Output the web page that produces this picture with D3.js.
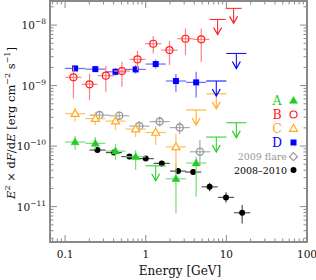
<!DOCTYPE html>
<html><head><meta charset="utf-8">
<script src="https://cdn.jsdelivr.net/npm/d3@7"></script>
<style>body{margin:0;background:#fff}svg{display:block}text{font-family:"DejaVu Serif",serif}</style>
</head><body>
<svg id="c" width="316" height="280"></svg>
<script>
// ---- data ----
const xTicks = [0.1, 1, 10, 100];
const xTickLabels = ["0.1", "1", "10", "100"];
const yTicks = [1e-8, 1e-9, 1e-10, 1e-11];
const yTickExps = ["\u22128", "\u22129", "\u221210", "\u221211"];

// A (green)
const aE  = [0.133, 0.237, 0.422, 0.75, 2.37, 4.22];
const aF  = [1.17e-10, 1.11e-10, 8.27e-11, 6.65e-11, 2.88e-11, 5.24e-11];
const aLo = [8.6e-11, 8.9e-11, 5.87e-11, 4.01e-11, 7.7e-12, 1.45e-11];
const aHi = [1.47e-10, 1.41e-10, 1.08e-10, 8.6e-11, 5.24e-11, 6.65e-11];
const aUlE = [1.33, 7.5, 13.3];
const aUlF = [4.72e-11, 1.41e-10, 2.43e-10];
// B (red)
const bE  = [0.127, 0.201, 0.32, 0.507, 0.79, 1.24, 1.97, 3.11, 4.88];
const bF  = [1.37e-9, 1.05e-9, 1.46e-9, 1.74e-9, 2.71e-9, 4.91e-9, 3.86e-9, 5.94e-9, 5.81e-9];
const bLo = [6.14e-10, 5.76e-10, 7.9e-10, 9.55e-10, 1.8e-9, 3.4e-9, 2.18e-9, 3.19e-9, 2.47e-9];
const bHi = [2.05e-9, 1.58e-9, 2.11e-9, 2.47e-9, 3.76e-9, 6.58e-9, 5.5e-9, 8.82e-9, 8.82e-9];
const bUlE = [7.79, 12.3];
const bUlF = [1.24e-8, 1.89e-8];
// C (orange)
const cE  = [0.133, 0.237, 0.422, 0.75, 1.33, 2.37];
const cF  = [3.44e-10, 2.85e-10, 2.59e-10, 1.91e-10, 1.68e-10, 9.7e-11];
const cLo = [2.54e-10, 2.23e-10, 1.84e-10, 1.41e-10, 1.04e-10, 4.28e-11];
const cHi = [4.25e-10, 3.69e-10, 3.25e-10, 2.37e-10, 2.14e-10, 1.62e-10];
const cUlE = [4.22, 7.5];
const cUlF = [3.95e-10, 7.29e-10];
// D (blue)
const dE  = [0.133, 0.237, 0.422, 0.75, 1.33, 2.37, 4.22];
const dF  = [1.92e-9, 1.87e-9, 1.69e-9, 1.85e-9, 2.27e-9, 1.19e-9, 1.13e-9];
const dLo = [1.74e-9, 1.67e-9, 1.46e-9, 1.59e-9, 1.92e-9, 7.9e-10, 6.38e-10];
const dHi = [2.14e-9, 2.1e-9, 1.95e-9, 2.16e-9, 2.71e-9, 1.55e-9, 1.69e-9];
const dUlE = [7.5, 13.3];
const dUlF = [1.19e-9, 3.4e-9];
// 2009 flare (gray)
const gE  = [0.267, 0.469, 0.832, 1.49, 2.64, 4.7];
const gF  = [3.25e-10, 3.17e-10, 2.14e-10, 2.54e-10, 2.02e-10, 8.05e-11];
const gLo = [2.79e-10, 2.69e-10, 1.8e-10, 2.1e-10, 1.58e-10, 4.67e-11];
const gHi = [3.79e-10, 3.72e-10, 2.54e-10, 3.08e-10, 2.54e-10, 1.26e-10];
// 2008-2010 (black)
const kE  = [0.252, 0.403, 0.628, 1.0, 1.58, 2.52, 3.88, 6.2, 9.9, 15.7];
const kF  = [8.6e-11, 7.81e-11, 6.7e-11, 6.21e-11, 5.18e-11, 3.86e-11, 3.72e-11, 2.12e-11, 1.42e-11, 7.91e-12];
const kLo = [7.81e-11, 7.1e-11, 6.09e-11, 5.65e-11, 4.67e-11, 3.44e-11, 3.32e-11, 1.8e-11, 1.17e-11, 5.27e-12];
const kHi = [9.45e-11, 8.6e-11, 7.38e-11, 6.84e-11, 5.75e-11, 4.33e-11, 4.17e-11, 2.49e-11, 1.72e-11, 1.06e-11];

const legendLabels = ["A", "B", "C", "D", "2009 flare", "2008\u20132010"];

// ---- drawing ----
const svg = d3.select("#c");
const L = 50, R = 307, T = 1, B = 242;
const x = d3.scaleLog().domain([0.065, 100]).range([L, R]);
const y = d3.scaleLog().domain([2.6e-12, 2.5e-8]).range([B, T]);

const axisCol = "#8a8a8a";
const xMinor = [];
[0.01, 0.1, 1, 10].forEach(d => { for (let k = 1; k < 10; k++) { const v = d * k; if (v >= 0.065 && v <= 100) xMinor.push(v); } });
const yMinor = [];
[1e-12, 1e-11, 1e-10, 1e-9, 1e-8].forEach(d => { for (let k = 1; k < 10; k++) { const v = d * k; if (v >= 2.6e-12 && v <= 2.5e-8) yMinor.push(v); } });

const g = svg.append("g");
function isMajor(v) { return Math.abs(Math.log10(v) - Math.round(Math.log10(v))) < 1e-6; }
xMinor.forEach(v => {
  const len = isMajor(v) ? 7 : 3.5;
  g.append("line").attr("x1", x(v)).attr("x2", x(v)).attr("y1", B).attr("y2", B - len).attr("stroke", axisCol).attr("stroke-width", 1);
  g.append("line").attr("x1", x(v)).attr("x2", x(v)).attr("y1", T).attr("y2", T + len).attr("stroke", axisCol).attr("stroke-width", 1);
});
yMinor.forEach(v => {
  const len = isMajor(v) ? 7 : 3.5;
  g.append("line").attr("y1", y(v)).attr("y2", y(v)).attr("x1", L).attr("x2", L + len).attr("stroke", axisCol).attr("stroke-width", 1);
  g.append("line").attr("y1", y(v)).attr("y2", y(v)).attr("x1", R).attr("x2", R - len).attr("stroke", axisCol).attr("stroke-width", 1);
});
g.append("rect").attr("x", L).attr("y", T).attr("width", R - L).attr("height", B - T)
  .attr("fill", "none").attr("stroke", axisCol).attr("stroke-width", 2);

xTicks.forEach((v, i) => {
  svg.append("text").attr("x", x(v)).attr("y", 258).attr("text-anchor", "middle")
    .attr("font-size", 10.5).attr("fill", "#111").text(xTickLabels[i]);
});
yTicks.forEach((v, i) => {
  const t = svg.append("text").attr("x", 46).attr("y", y(v) + 4).attr("text-anchor", "end").attr("font-size", 10.5).attr("fill", "#111");
  t.append("tspan").text("10");
  t.append("tspan").attr("dy", -5).attr("font-size", 7.5).text(yTickExps[i]);
});

svg.append("text").attr("x", 180).attr("y", 275).attr("text-anchor", "middle").attr("font-size", 12).attr("fill", "#111").text("Energy [GeV]");
const yl = svg.append("text").attr("transform", "translate(15,123) rotate(-90)").attr("text-anchor", "middle").attr("font-size", 11.5).attr("fill", "#111");
yl.append("tspan").attr("font-style", "italic").text("E");
yl.append("tspan").attr("dy", -5).attr("font-size", 8).text("2");
yl.append("tspan").attr("dy", 5).text(" \u00d7 d");
yl.append("tspan").attr("font-style", "italic").text("F");
yl.append("tspan").text("/d");
yl.append("tspan").attr("font-style", "italic").text("E");
yl.append("tspan").text(" [erg cm");
yl.append("tspan").attr("dy", -5).attr("font-size", 8).text("\u22122");
yl.append("tspan").attr("dy", 5).text(" s");
yl.append("tspan").attr("dy", -5).attr("font-size", 8).text("\u22121");
yl.append("tspan").attr("dy", 5).text("]");

const plot = svg.append("g");

function marker(sel, type, cx, cy, col) {
  if (type === "tri" || type === "otri") {
    const s = 4;
    sel.append("path").attr("d", `M${cx},${cy - s}L${cx + s},${cy + s * 0.7}L${cx - s},${cy + s * 0.7}Z`)
      .attr("fill", type === "tri" ? col : "#fff").attr("stroke", col).attr("stroke-width", type === "tri" ? 0.5 : 1.2);
  } else if (type === "ocirc") {
    sel.append("circle").attr("cx", cx).attr("cy", cy).attr("r", 3.5).attr("fill", "none").attr("stroke", col).attr("stroke-width", 1.2);
  } else if (type === "gcirc") {
    sel.append("circle").attr("cx", cx).attr("cy", cy).attr("r", 3.6).attr("fill", "none").attr("stroke", col).attr("stroke-width", 1.3);
  } else if (type === "sq") {
    sel.append("rect").attr("x", cx - 3).attr("y", cy - 3).attr("width", 6).attr("height", 6).attr("fill", col);
  } else if (type === "diam") {
    sel.append("path").attr("d", `M${cx},${cy - 4}L${cx + 4},${cy}L${cx},${cy + 4}L${cx - 4},${cy}Z`)
      .attr("fill", "none").attr("stroke", col).attr("stroke-width", 1.2);
  } else if (type === "dot") {
    sel.append("circle").attr("cx", cx).attr("cy", cy).attr("r", 3).attr("fill", col);
  }
}

function series(E, F, Lo, Hi, hw, col, errCol, type) {
  const s = plot.append("g");
  E.forEach((e, i) => {
    s.append("line").attr("x1", x(e / Math.pow(10, hw))).attr("x2", x(e * Math.pow(10, hw)))
      .attr("y1", y(F[i])).attr("y2", y(F[i])).attr("stroke", errCol).attr("stroke-width", 1.2);
    s.append("line").attr("x1", x(e)).attr("x2", x(e)).attr("y1", y(Lo[i])).attr("y2", y(Hi[i]))
      .attr("stroke", errCol).attr("stroke-width", 1.2);
  });
  E.forEach((e, i) => marker(s, type, x(e), y(F[i]), col));
}
function uls(E, F, hw, col) {
  const s = plot.append("g");
  E.forEach((e, i) => {
    const cx = x(e), cy = y(F[i]);
    s.append("line").attr("x1", x(e / Math.pow(10, hw))).attr("x2", x(e * Math.pow(10, hw)))
      .attr("y1", cy).attr("y2", cy).attr("stroke", col).attr("stroke-width", 1);
    s.append("line").attr("x1", cx).attr("x2", cx).attr("y1", cy).attr("y2", cy + 15).attr("stroke", col).attr("stroke-width", 1);
    s.append("path").attr("d", `M${cx - 4},${cy + 8}L${cx},${cy + 15}L${cx + 4},${cy + 8}`)
      .attr("fill", "none").attr("stroke", col).attr("stroke-width", 1.2);
  });
}

const cA = "#22cc22", cB = "#ff2020", cC = "#ffaa22", cD = "#0000ff", cG = "#999999", cK = "#000000";
series(kE, kF, kLo, kHi, 0.1, cK, "#555", "dot");
series(gE, gF, gLo, gHi, 0.125, cG, "#aaa", "gcirc");
series(aE, aF, aLo, aHi, 0.125, cA, "#77e077", "tri");
uls(aUlE, aUlF, 0.125, cA);
series(cE, cF, cLo, cHi, 0.125, cC, "#ffc060", "otri");
uls(cUlE, cUlF, 0.125, cC);
series(dE, dF, dLo, dHi, 0.125, cD, "#6a6aff", "sq");
uls(dUlE, dUlF, 0.125, cD);
series(bE, bF, bLo, bHi, 0.1, cB, "#ff8080", "ocirc");
uls(bUlE, bUlF, 0.1, cB);

const lg = svg.append("g");
const legCols = [cA, cB, cC, cD];
const legTypes = ["tri", "ocirc", "otri", "sq"];
[0, 1, 2, 3].forEach(i => {
  const yy = 100.5 + i * 14;
  lg.append("text").attr("x", 277).attr("y", yy + 4.5).attr("text-anchor", "middle").attr("font-size", 12.5)
    .attr("fill", legCols[i]).text(legendLabels[i]);
  marker(lg, legTypes[i], 293.5, yy, legCols[i]);
});
lg.append("text").attr("x", 287).attr("y", 160).attr("text-anchor", "end").attr("font-size", 9.5).attr("fill", "#999").text(legendLabels[4]);
marker(lg, "diam", 293.5, 156.7, cG);
lg.append("text").attr("x", 287).attr("y", 173.5).attr("text-anchor", "end").attr("font-size", 9.5).attr("fill", "#000").text(legendLabels[5]);
marker(lg, "dot", 293.5, 170, cK);
</script>
</body></html>
